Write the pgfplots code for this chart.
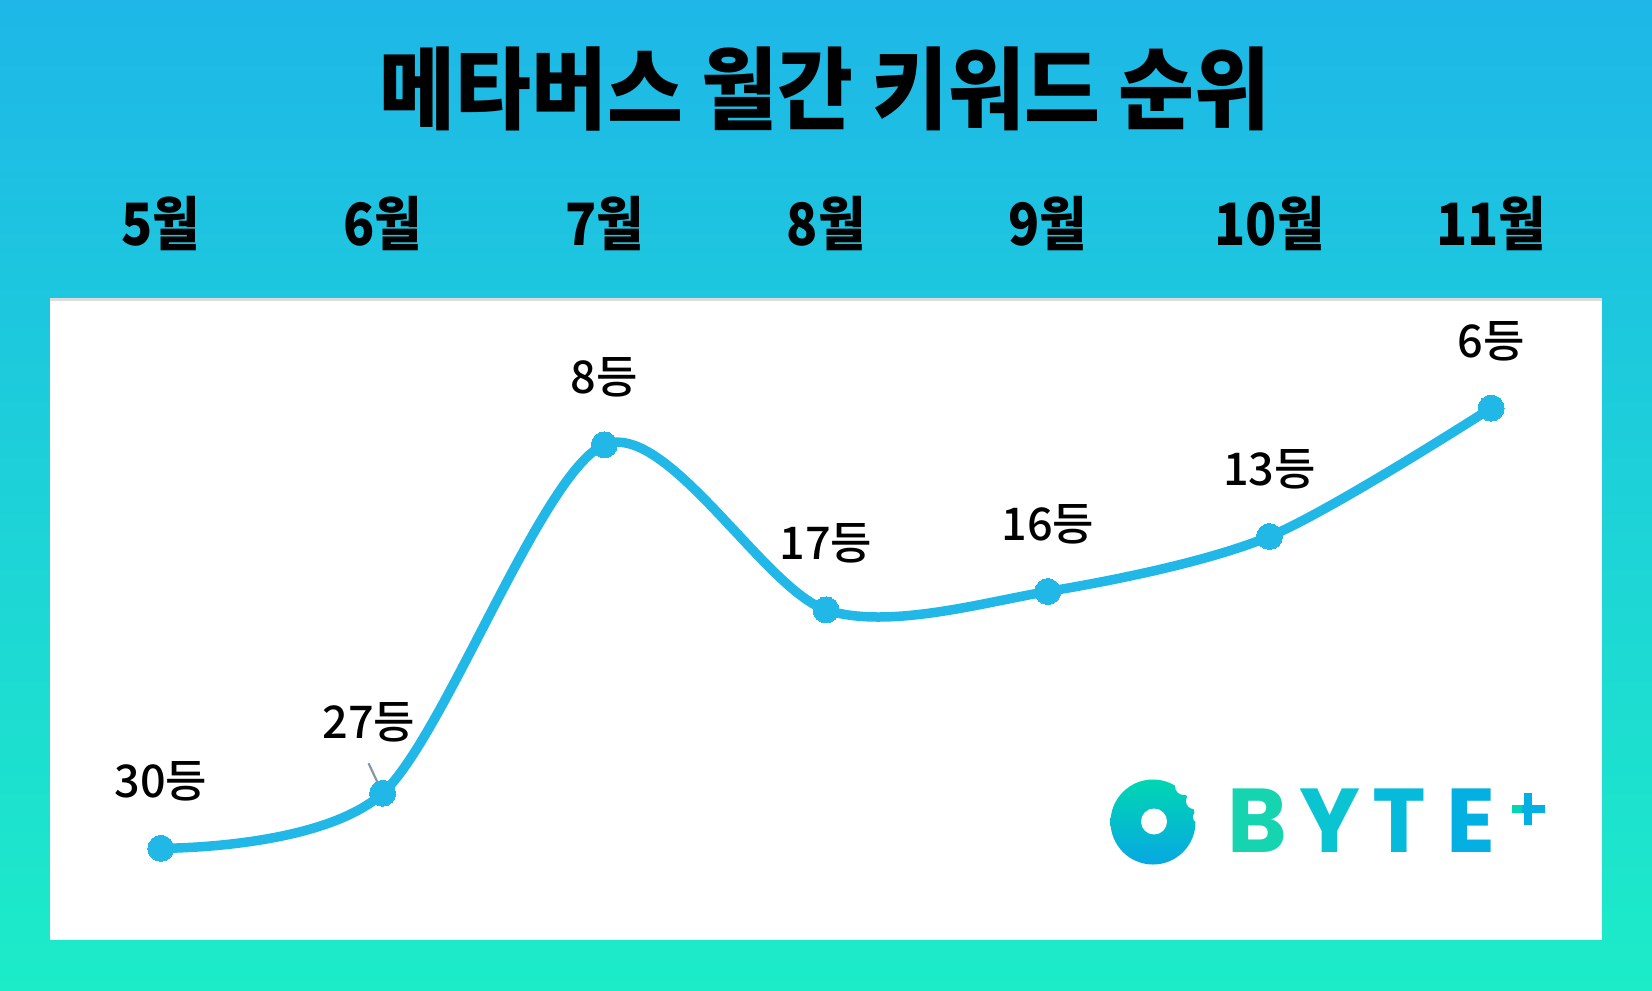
\documentclass[border=0pt]{standalone}
\usepackage{fontspec}
\usepackage{pgfplots}
\pgfplotsset{compat=1.18}
\setmainfont{Noto Sans CJK KR}
\newfontfamily\krfont{Noto Sans CJK KR}[FakeStretch=0.88]
\newfontfamily\krtitle{Noto Sans CJK KR}[FakeStretch=0.92]
\newfontfamily\krmed{Noto Sans CJK KR Medium}
\newfontfamily\logofont{Poppins}
\definecolor{linec}{RGB}{33,184,232}
\definecolor{bgtop}{RGB}{30,183,232}
\definecolor{bgmid}{RGB}{30,220,225}
\definecolor{bgbot}{RGB}{28,236,200}
\definecolor{panelline}{RGB}{220,220,220}
\definecolor{leader}{RGB}{138,150,165}
\definecolor{lteal}{RGB}{0,214,178}
\definecolor{lblue}{RGB}{8,168,226}
\definecolor{cB}{RGB}{22,212,176}
\definecolor{cY}{RGB}{10,196,210}
\definecolor{cT}{RGB}{6,186,220}
\definecolor{cE}{RGB}{3,176,225}
\begin{document}
\begin{tikzpicture}
\path[use as bounding box] (0,0) rectangle (16.52cm,-9.90cm);
\shade[top color=bgtop, middle color=bgmid, bottom color=bgbot] (0,0) rectangle (16.52cm,-9.90cm);
\fill[white] (0.50cm,-2.977cm) rectangle (16.02cm,-9.40cm);
\fill[panelline] (0.50cm,-2.977cm) rectangle (16.02cm,-3.007cm);
\node[font=\krtitle\bfseries\fontsize{25.5}{28}\selectfont, text=black] at (8.25cm,-0.89cm) {메타버스 월간 키워드 순위};
% logo
\begin{scope}
\shade[shading angle=-30, top color=lteal, bottom color=lblue] (11.53cm,-8.22cm) circle (0.425cm);
\fill[white] (11.54cm,-8.215cm) circle (0.13cm);
\fill[white] (11.84cm,-7.86cm) circle (0.09cm);
\fill[white] (11.94cm,-8.01cm) circle (0.08cm);
\fill[white] (11.99cm,-8.17cm) circle (0.06cm);
\end{scope}
\node[font=\logofont\bfseries\fontsize{25.8}{27}\selectfont, text=cB, anchor=base, inner sep=0pt] at (12.57cm,-8.52cm) {B};
\node[font=\logofont\bfseries\fontsize{25.8}{27}\selectfont, text=cY, anchor=base, inner sep=0pt] at (13.30cm,-8.52cm) {Y};
\node[font=\logofont\bfseries\fontsize{25.8}{27}\selectfont, text=cT, anchor=base, inner sep=0pt] at (13.99cm,-8.52cm) {T};
\node[font=\logofont\bfseries\fontsize{25.8}{27}\selectfont, text=cE, anchor=base, inner sep=0pt] at (14.71cm,-8.52cm) {E};
\draw[cE, line width=0.085cm] (15.28cm,-7.93cm) -- (15.28cm,-8.25cm);
\draw[cE, line width=0.085cm] (15.12cm,-8.09cm) -- (15.45cm,-8.09cm);
\draw[lteal, line width=0.085cm] (15.12cm,-8.09cm) -- (15.22cm,-8.09cm);
\begin{axis}[
  at={(0.50cm,-9.40cm)}, anchor=south west,
  scale only axis, width=15.52cm, height=6.42cm,
  xmin=-0.5, xmax=6.5, ymin=0, ymax=35, y dir=reverse,
  axis line style={draw=none}, tick style={draw=none},
  major tick length=0pt,
  xtick={0,1,2,3,4,5,6},
  xticklabels={5월,6월,7월,8월,9월,10월,11월},
  xticklabel pos=upper,
  xticklabel style={anchor=center, yshift=0.745cm, font=\krfont\bfseries\fontsize{16.6}{18}\selectfont, text=black},
  ytick=\empty,
  clip=false,
]
\addplot[linec, line width=0.095cm, smooth, mark=*, mark size=0.13cm, mark options={fill=linec, draw=linec, line width=0pt}]
  coordinates {(0,30) (1,27) (2,8) (3,17) (4,16) (5,13) (6,6)};
\addplot[draw=none, mark=none, point meta=explicit symbolic, nodes near coords,
  every node near coord/.append style={anchor=center, yshift=0.67cm, font=\krmed\fontsize{12.8}{14}\selectfont, text=black}]
  coordinates {(0,30)[30등] (2,8)[8등] (3,17)[17등] (4,16)[16등] (5,13)[13등] (6,6)[6등]};
\addplot[draw=none, mark=none, point meta=explicit symbolic, nodes near coords,
  every node near coord/.append style={anchor=center, xshift=-0.137cm, yshift=0.706cm, font=\krmed\fontsize{12.8}{14}\selectfont, text=black}]
  coordinates {(1,27)[27등]};
\draw[leader, line width=0.022cm] ([xshift=-0.14cm,yshift=0.30cm]axis cs:1,27) -- (axis cs:1,27);
\end{axis}
\end{tikzpicture}
\end{document}
